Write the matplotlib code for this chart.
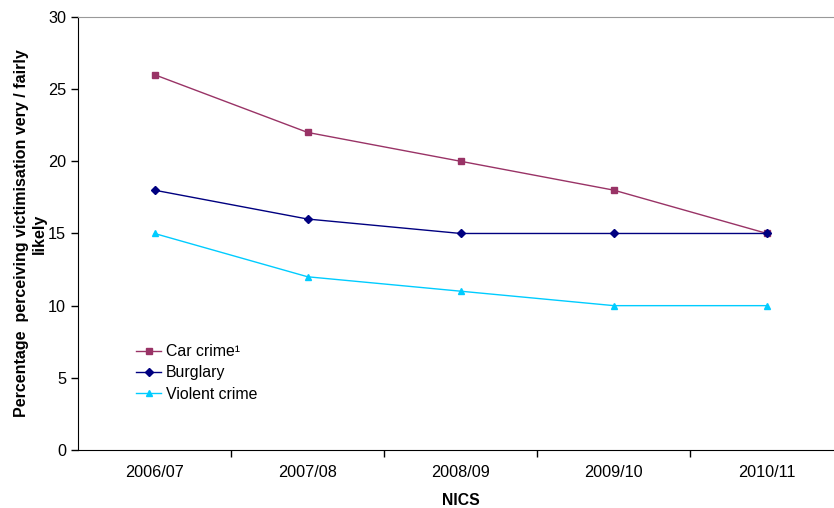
import matplotlib
matplotlib.use("Agg")
import matplotlib.pyplot as plt

plt.rcParams['font.family'] = ['Liberation Sans', 'DejaVu Sans']

years = ["2006/07", "2007/08", "2008/09", "2009/10", "2010/11"]
car_crime = [26, 22, 20, 18, 15]
burglary = [18, 16, 15, 15, 15]
violent_crime = [15, 12, 11, 10, 10]

fig = plt.figure(figsize=(8.34, 5.08), dpi=100)
ax = fig.add_axes([0.0935, 0.1142, 0.918, 0.8524])

x = range(len(years))
ax.plot(x, car_crime, color="#993366", marker="s", markersize=5, lw=1, label="Car crime¹")
ax.plot(x, burglary, color="#000080", marker="D", markersize=4, lw=1, label="Burglary")
ax.plot(x, violent_crime, color="#00CCFF", marker="^", markersize=5, lw=1, label="Violent crime")

ax.set_xlim(-0.5, len(years) - 0.5)
ax.set_ylim(0, 30)
ax.set_yticks(range(0, 31, 5))
# category labels sit between the tick marks
ax.set_xticks([i + 0.5 for i in range(len(years) - 1)])
ax.set_xticklabels([])
ax.set_xticks(list(x), minor=True)
ax.set_xticklabels(years, minor=True)
ax.tick_params(axis="x", which="major", direction="out", length=5, width=1)
ax.tick_params(axis="x", which="minor", length=0, pad=11, labelsize=11.7)
ax.tick_params(axis="y", direction="out", length=5, width=1, labelsize=11.7)

ax.spines["right"].set_visible(False)
ax.spines["top"].set_color("#999999")
ax.spines["left"].set_color("black")
ax.spines["bottom"].set_color("black")

ax.set_xlabel("NICS", fontweight="bold", fontsize=11.3, labelpad=9)
ax.set_ylabel("Percentage  perceiving victimisation very / fairly\nlikely",
              fontweight="bold", fontsize=11.5, labelpad=1)

ax.legend(loc="center left", bbox_to_anchor=(0.057, 0.178), frameon=False,
          fontsize=11.4, handlelength=1.6, handletextpad=0.3, labelspacing=0.4)

fig.savefig("out.png", dpi=100)
